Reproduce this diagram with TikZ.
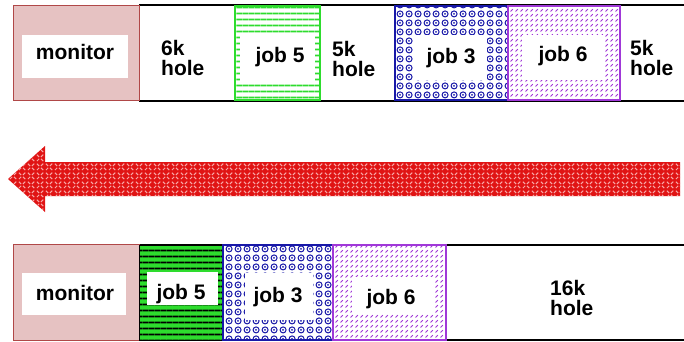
\documentclass[tikz,border=0pt]{standalone}
\usepackage{fontspec}
\setmainfont{Liberation Sans}
\usetikzlibrary{patterns}
\pgfdeclarepatternformonly{hl}{\pgfpointorigin}{\pgfpoint{5.5pt}{5.5pt}}{\pgfpoint{5.5pt}{5.5pt}}{%
  \pgfsetlinewidth{1.8pt}\pgfpathmoveto{\pgfpoint{-0.5pt}{2.75pt}}\pgfpathlineto{\pgfpoint{6pt}{2.75pt}}\pgfusepath{stroke}}
\pgfdeclarepatternformonly{octs}{\pgfpointorigin}{\pgfpoint{9pt}{9pt}}{\pgfpoint{9pt}{9pt}}{%
  \pgfsetlinewidth{1.1pt}\pgfpathcircle{\pgfpoint{4.5pt}{4.5pt}}{3.3pt}\pgfusepath{stroke}%
  \pgfpathcircle{\pgfpoint{4.5pt}{4.5pt}}{1.1pt}\pgfusepath{fill}}
\pgfdeclarepatternformonly{ddiag}{\pgfpointorigin}{\pgfpoint{5pt}{5pt}}{\pgfpoint{5pt}{5pt}}{%
  \pgfsetlinewidth{1.1pt}\pgfpathmoveto{\pgfpoint{0.6pt}{0.6pt}}\pgfpathlineto{\pgfpoint{3.4pt}{3.4pt}}\pgfusepath{stroke}}
\pgfdeclarepatternformonly{herring}{\pgfpointorigin}{\pgfpoint{9pt}{9pt}}{\pgfpoint{9pt}{9pt}}{%
  \pgfsetlinewidth{1.1pt}%
  \pgfpathmoveto{\pgfpoint{1pt}{1pt}}\pgfpathlineto{\pgfpoint{3.5pt}{3.5pt}}%
  \pgfpathmoveto{\pgfpoint{5.5pt}{3.5pt}}\pgfpathlineto{\pgfpoint{8pt}{1pt}}%
  \pgfpathmoveto{\pgfpoint{1pt}{8pt}}\pgfpathlineto{\pgfpoint{3.5pt}{5.5pt}}%
  \pgfpathmoveto{\pgfpoint{5.5pt}{5.5pt}}\pgfpathlineto{\pgfpoint{8pt}{8pt}}%
  \pgfusepath{stroke}}
\definecolor{monfill}{HTML}{E6C2C2}
\definecolor{monedge}{HTML}{B04848}
\definecolor{jgreen}{HTML}{2EDC2E}
\definecolor{jblue}{HTML}{1818A8}
\definecolor{jpurple}{HTML}{A038D8}
\definecolor{ared}{HTML}{E01414}
\definecolor{apink}{HTML}{F8A8A8}
\begin{document}
\begin{tikzpicture}[x=1pt,y=-1pt,
  lbl/.style={font=\fontsize{21}{20}\selectfont\bfseries, inner sep=0pt},
  frame/.style={line width=2pt, black},
  monbox/.style={draw=monedge, fill=monfill, line width=1pt},
  j5top/.style={draw=jgreen, line width=1.5pt, fill=white, postaction={pattern=hl, pattern color=jgreen}},
  j5bot/.style={draw=black, line width=1pt, fill=jgreen, postaction={pattern=hl, pattern color=black}},
  j3box/.style={draw=jblue, line width=1.5pt, fill=white, postaction={pattern=octs, pattern color=jblue}},
  j6box/.style={draw=jpurple, line width=1.5pt, fill=white, postaction={pattern=ddiag, pattern color=jpurple}},
  inner/.style={fill=white}]
\useasboundingbox (0,0) rectangle (684,342);
% frame lines
\draw[frame] (139,5) -- (684,5);
\draw[frame] (139,101) -- (684,101);
\draw[frame] (139,245) -- (684,245);
\draw[frame] (139,340) -- (684,340);
% top row
\path[monbox] (13,6) rectangle (139,101);
\fill[inner] (22,35) rectangle (128,78);
\path[j5top] (235,6) rectangle (320,100);
\fill[inner] (240,33) rectangle (315,82);
\path[j3box] (395,6) rectangle (508,100);
\fill[inner] (414,35) rectangle (487,80);
\path[j6box] (508,6) rectangle (620,100);
\fill[inner] (522,35) rectangle (605,80);
\node[lbl, anchor=base] (mon1) at (75,60) {monitor};
\node[lbl, anchor=base] (j5a) at (280,63) {job 5};
\node[lbl, anchor=base] (j3a) at (451,64) {job 3};
\node[lbl, anchor=base] (j6a) at (563,62) {job 6};
\node[lbl, anchor=west, align=left] (h6) at (161,58) {6k\\hole};
\node[lbl, anchor=west, align=left] (h5a) at (332,59) {5k\\hole};
\node[lbl, anchor=west, align=left] (h5b) at (630,58) {5k\\hole};
% arrow
\path[fill=ared, postaction={pattern=herring, pattern color=apink}]
  (680,162) -- (45,162) -- (45,146) -- (8,179) -- (45,212) -- (45,196) -- (680,196) -- cycle;
% bottom row
\path[monbox] (13,244) rectangle (139,340);
\fill[inner] (22,273) rectangle (126,315);
\path[j5bot] (139,245) rectangle (223,340);
\fill[inner] (147,272) rectangle (218,305);
\path[j3box] (223,245) rectangle (333,340);
\fill[inner] (245,273) rectangle (313,320);
\path[j6box] (333,245) rectangle (446,340);
\fill[inner] (352,277) rectangle (435,313);
\node[lbl, anchor=base] (mon2) at (75,300) {monitor};
\node[lbl, anchor=base] (j5b) at (181,299) {job 5};
\node[lbl, anchor=base] (j3b) at (278,302) {job 3};
\node[lbl, anchor=base] (j6b) at (391,304) {job 6};
\node[lbl, anchor=west, align=left] (h16) at (550,298) {16k\\hole};
\end{tikzpicture}
\end{document}
